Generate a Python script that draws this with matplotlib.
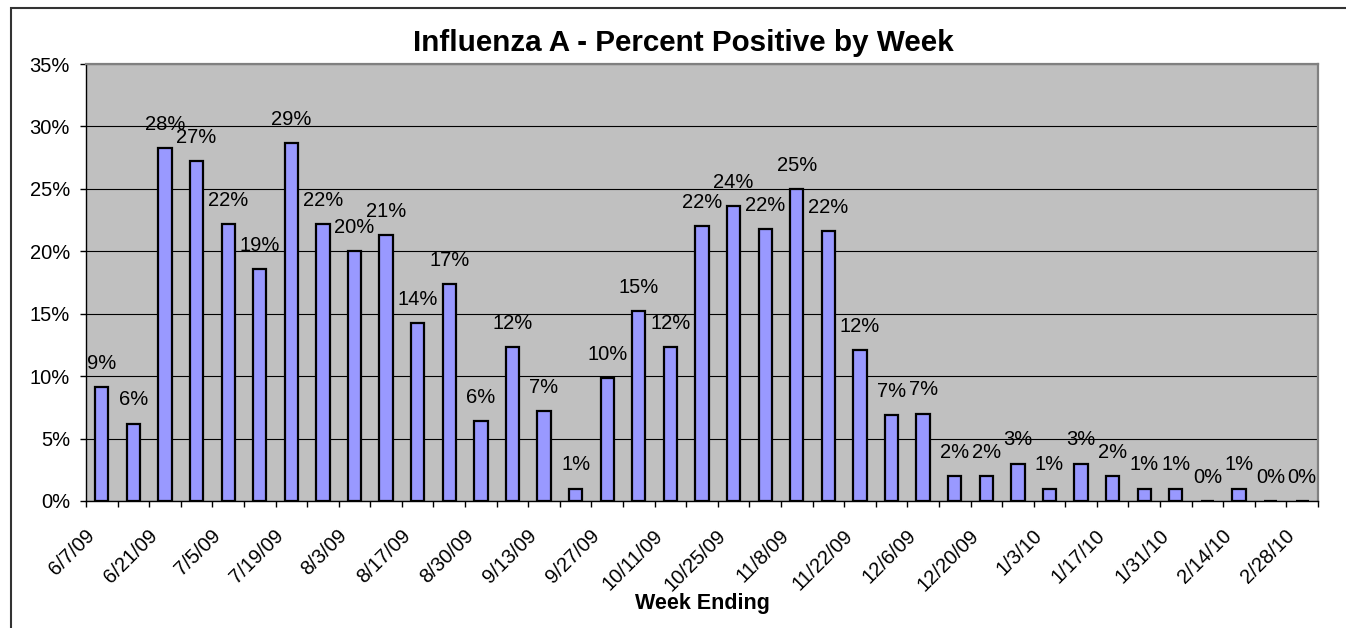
import matplotlib
matplotlib.use("Agg")
import matplotlib.pyplot as plt
from matplotlib.patches import Rectangle
from matplotlib.transforms import ScaledTranslation
import numpy as np

weeks = ["6/7/09", "6/14/09", "6/21/09", "6/28/09", "7/5/09", "7/12/09", "7/19/09", "7/26/09",
         "8/3/09", "8/10/09", "8/17/09", "8/23/09", "8/30/09", "9/6/09", "9/13/09", "9/20/09",
         "9/27/09", "10/4/09", "10/11/09", "10/18/09", "10/25/09", "11/1/09", "11/8/09", "11/15/09",
         "11/22/09", "11/29/09", "12/6/09", "12/13/09", "12/20/09", "12/27/09", "1/3/10", "1/10/10",
         "1/17/10", "1/24/10", "1/31/10", "2/7/10", "2/14/10", "2/21/10", "2/28/10"]
pct_positive = [9.1, 6.2, 28.3, 27.2, 22.2, 18.6, 28.7, 22.2, 20.0, 21.3, 14.25, 17.4, 6.4, 12.3,
                7.2, 1.0, 9.85, 15.2, 12.3, 22.0, 23.6, 21.75, 25.0, 21.6, 12.1, 6.9, 7.0, 2.0,
                2.0, 3.0, 1.0, 3.0, 2.0, 1.0, 1.0, 0.0, 1.0, 0.0, 0.0]
y_ticks = [0, 5, 10, 15, 20, 25, 30, 35]

plt.rcParams['font.family'] = ['Liberation Sans', 'DejaVu Sans']

W, H = 1346, 628
fig = plt.figure(figsize=(W / 100, H / 100), dpi=100)
fig.patch.set_facecolor("white")

left, right, top, bottom = 86, 1318, 64, 501
ax = fig.add_axes([left / W, 1 - bottom / H, (right - left) / W, (bottom - top) / H])
ax.set_facecolor("#C0C0C0")

x = np.arange(len(weeks))
ax.bar(x, pct_positive, width=0.42, color="#9999FF", edgecolor="black", linewidth=1.6, zorder=3)

FS = 14.5
for xi, v in zip(x, pct_positive):
    ax.annotate(f"{int(round(v))}%", (xi, v), xytext=(0, 17), textcoords="offset points",
                ha="center", va="center", fontsize=FS, color="black", zorder=4)

ax.set_xlim(-0.5, len(weeks) - 0.5)
ax.set_ylim(0, 35)
ax.set_yticks(y_ticks)
ax.set_yticklabels([f"{t}%" for t in y_ticks], fontsize=FS)
ax.yaxis.grid(True, color="black", linewidth=0.8, zorder=1)
ax.set_axisbelow(True)

ax.set_xticks(x[::2])
ax.set_xticklabels(weeks[::2], rotation=45, ha="right", va="top", rotation_mode="anchor", fontsize=FS)
ax.set_xticks(np.arange(-0.5, len(weeks), 1), minor=True)
ax.tick_params(axis="x", which="major", length=0, pad=18)
ax.tick_params(axis="x", which="minor", length=4.5, width=1, color="black", direction="out")
ax.tick_params(axis="y", length=4.5, width=1, pad=7)
shift = ScaledTranslation(-17 / 100, 0, fig.dpi_scale_trans)
for lbl in ax.get_xticklabels():
    lbl.set_transform(lbl.get_transform() + shift)

for s in ["top", "right"]:
    ax.spines[s].set_color("#808080")
    ax.spines[s].set_linewidth(1.6)
for s in ["left", "bottom"]:
    ax.spines[s].set_color("black")
    ax.spines[s].set_linewidth(1.0)

fig.text(702 / W, 1 - 603 / H, "Week Ending", ha="center", va="center",
         fontsize=15.5, fontweight="bold")

fig.text(683 / W, 1 - 43 / H, "Influenza A - Percent Positive by Week", ha="center", va="center",
         fontsize=21.3, fontweight="bold")

fig.add_artist(Rectangle((11.5 / W, -0.1), 1.2, 1.1 - 7.5 / H, transform=fig.transFigure,
                         fill=False, edgecolor="#333333", linewidth=1.5))

fig.savefig("out.png", dpi=100)
